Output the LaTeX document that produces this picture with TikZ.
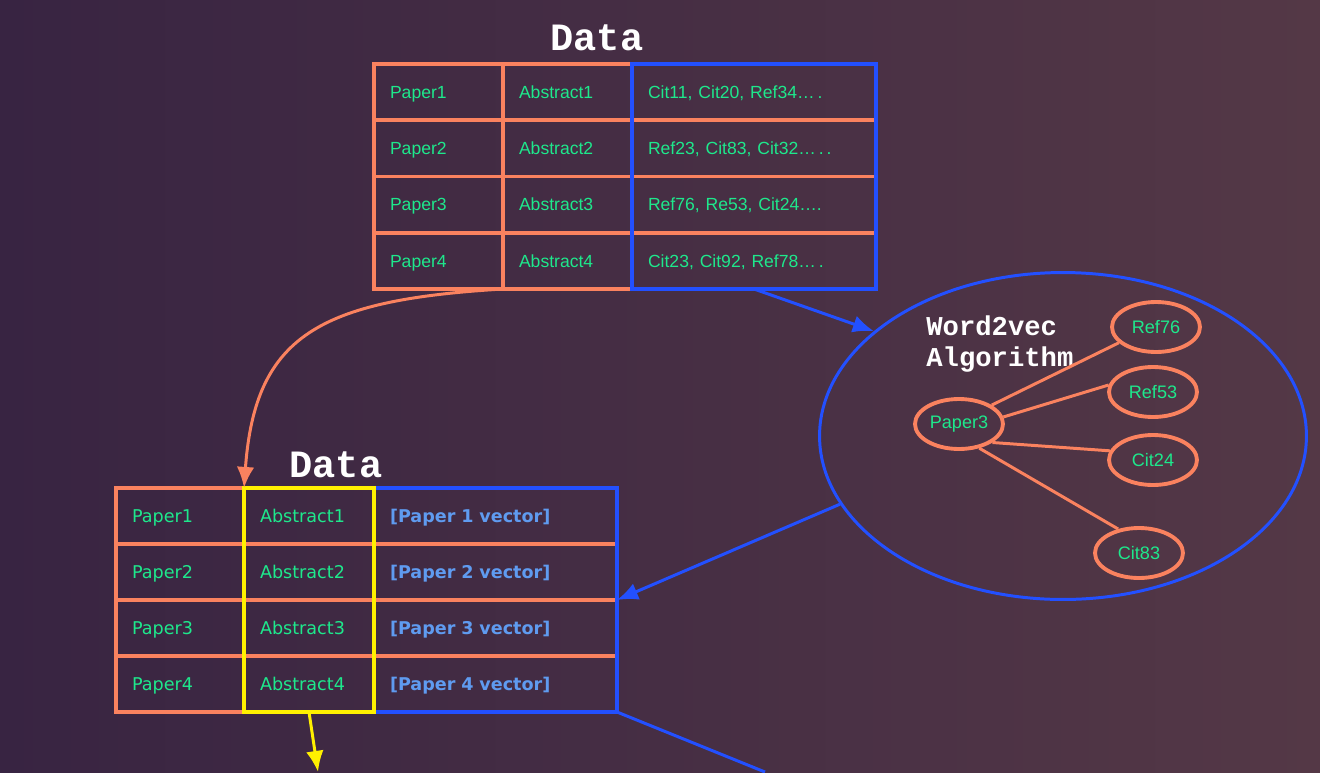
\documentclass[tikz,border=0pt]{standalone}
\usepackage{fontspec}
\setmainfont{Liberation Sans}
\newfontfamily\dejavu{DejaVu Sans}
\newfontfamily\monofont{Liberation Mono}
\usetikzlibrary{arrows.meta,shapes.geometric}

\definecolor{bgdark}{RGB}{56,36,66}
\definecolor{bglight}{RGB}{84,56,70}
\definecolor{salmon}{RGB}{250,130,95}
\definecolor{mint}{RGB}{30,232,140}
\definecolor{vecblue}{RGB}{95,155,240}
\definecolor{linkblue}{RGB}{35,80,255}
\definecolor{hiyellow}{RGB}{255,240,0}

\begin{document}
\begin{tikzpicture}[x=0.02cm, y=-0.02cm,
        cell/.style={rectangle, draw=salmon, line width=2.2pt, text=mint,
                     inner xsep=0.32cm, inner ysep=0pt, outer sep=0pt,
                     text width=#1, align=left, minimum height=1.125cm,
                     text height=7.2pt, text depth=0pt,
                     font=\fontsize{10}{12}\selectfont},
        lowcell/.style={cell=#1, minimum height=1.12cm,
                     font=\dejavu\fontsize{10}{12}\selectfont},
        vecbox/.style={lowcell=#1, text=vecblue,
                     font=\dejavu\bfseries\fontsize{10}{12}\selectfont},
        heading/.style={text=white, font=\monofont\bfseries\fontsize{22}{24}\selectfont},
        token/.style={ellipse, draw=salmon, line width=2.2pt, text=mint,
                     minimum width=1.76cm, minimum height=1cm, inner sep=0pt,
                     font=\fontsize{10.3}{12}\selectfont},
        link/.style={draw=salmon, line width=1.7pt},
        arrow/.style={-{Latex[length=12pt,width=10pt]}}
    ]

    % background
    \useasboundingbox (0,0) rectangle (1320,772);
    \fill[left color=bgdark, right color=bglight] (0,0) rectangle (1320,772);

    % first data table
    \node[heading] (title1) at (597,38) {Data};
    \foreach \refs [count=\i] in {{Cit11, Cit20, Ref34\ldots\,.}, {Ref23, Cit83, Cit32\ldots\,.\,.},
                                  {Ref76, Re53, Cit24\ldots.}, {Cit23, Cit92, Ref78\ldots\,.}} {
        \node[cell=1.94cm] (t1p\i) at (438.5, {64+56.25*(\i-0.5)}) {Paper\i};
        \node[cell=1.94cm] (t1a\i) at (567.5, {64+56.25*(\i-0.5)}) {Abstract\i};
        \node[cell=4.24cm] (t1c\i) at (754, {64+56.25*(\i-0.5)}) {\refs};
    }
    \draw[linkblue, line width=1.9pt] (t1c1.north west) rectangle (t1c4.south east);

    % word2vec
    \node[ellipse, draw=linkblue, line width=1.7pt, minimum width=9.74cm,
          minimum height=6.54cm, inner sep=0pt] (w2v) at (1063,436) {};
    \node[text=white, font=\monofont\bfseries\fontsize{15.5}{18}\selectfont,
          align=left, anchor=north west, inner sep=0pt] (algo) at (926,315) {Word2vec\\Algorithm};
    \node[token] (paper3) at (959,424) {Paper3};
    \node[token] (ref76) at (1156,327) {Ref76};
    \node[token] (ref53) at (1153,392) {Ref53};
    \node[token] (cit24) at (1153,460) {Cit24};
    \node[token] (cit83) at (1139,553) {Cit83};
    \draw[link] (paper3.30) -- (ref76.203);
    \draw[link] (paper3.9) -- (ref53.171);
    \draw[link] (paper3.-29) -- (cit24.168);
    \draw[link] (paper3.-50) -- (cit83.131);

    % second data table
    \node[heading] (title2) at (336,465) {Data};
    \foreach \i in {1,...,4} {
        \node[lowcell=1.92cm] (t2p\i) at (180, {488+56*(\i-0.5)}) {Paper\i};
        \node[lowcell=1.96cm] (t2a\i) at (309, {488+56*(\i-0.5)}) {Abstract\i};
        \node[vecbox=4.22cm] (t2v\i) at (495.5, {488+56*(\i-0.5)}) {{[}Paper \i\ vector{]}};
    }
    \draw[linkblue, line width=1.8pt] (t2v1.north west) rectangle (t2v4.south east);
    \draw[hiyellow, line width=1.8pt] (t2a1.north west) rectangle (t2a4.south east);

    % connectors
    \draw[salmon, line width=1.7pt, arrow] (t1p4.south east) .. controls (320,300) and (255,335) .. (t2a1.north west);
    \draw[linkblue, line width=1.7pt, arrow] (t1c4.south) -- (w2v.151);
    \draw[linkblue, line width=1.7pt, arrow] (w2v.197) -- (t2v2.south east);
    \coordinate (offblue) at (765,772);
    \coordinate (offyellow) at (318,772);
    \draw[linkblue, line width=1.7pt] (t2v4.south east) -- (offblue);
    \draw[hiyellow, line width=1.7pt, arrow] (t2a4.south) -- (offyellow);

\end{tikzpicture}
\end{document}
